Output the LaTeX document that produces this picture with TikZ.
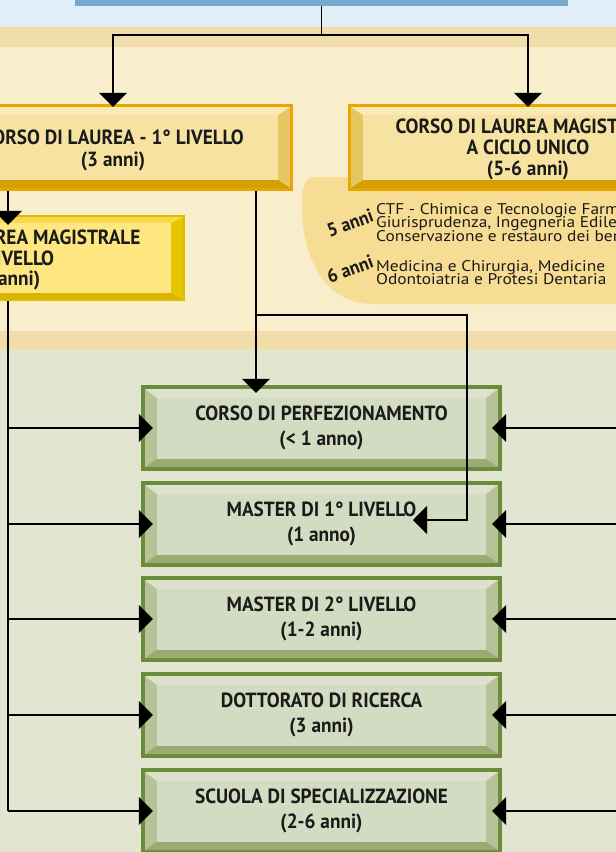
\documentclass[tikz,border=0pt]{standalone}
\usepackage{fontspec}
\setmainfont{PT Sans}
\newfontfamily\hfont[FakeStretch=0.94]{PT Sans}
\newfontfamily\sfont[FakeStretch=1.12]{PT Sans}
\usetikzlibrary{arrows.meta}

\definecolor{bgblue}{HTML}{E1EEF8}
\definecolor{bgtan}{HTML}{F1DDAA}
\definecolor{bgcream}{HTML}{F8EECC}
\definecolor{bggreen}{HTML}{E2E6D1}
\definecolor{oshape}{HTML}{F7DD93}
\definecolor{topblue}{HTML}{77A8CE}
\definecolor{txt}{HTML}{1A1A1A}
% orange box
\definecolor{obd}{HTML}{E8A700}
\definecolor{osd}{HTML}{E6C660}
\definecolor{otp}{HTML}{FAE9B5}
\definecolor{obt}{HTML}{D59F00}
\definecolor{ofc}{HTML}{F7E3A1}
% yellow box
\definecolor{ybd}{HTML}{E0BC00}
\definecolor{ysd}{HTML}{E6C600}
\definecolor{ytp}{HTML}{F6D94A}
\definecolor{ybt}{HTML}{D9B500}
\definecolor{yfc}{HTML}{FEE680}
% green box
\definecolor{gbd}{HTML}{6A8C3C}
\definecolor{gsd}{HTML}{B6C297}
\definecolor{gtp}{HTML}{DCE2CB}
\definecolor{gbt}{HTML}{9AAA72}
\definecolor{gfc}{HTML}{D3DBC2}

\def\bvT{4}\def\bvS{12}\def\bvU{9}\def\bvV{8}
% #1 name, #2 x1, #3 y1, #4 x2, #5 y2, #6 colour prefix, #7 text style, #8 text
\newcommand\bevbox[8]{%
  \fill[#6bd] (#2,#3) rectangle (#4,#5);
  \fill[#6sd] ({#2+\bvT},{#3+\bvT}) rectangle ({#4-\bvT},{#5-\bvT});
  \fill[#6tp] ({#2+\bvT},{#3+\bvT}) -- ({#4-\bvT},{#3+\bvT}) -- ({#4-\bvT-\bvS},{#3+\bvT+\bvU}) -- ({#2+\bvT+\bvS},{#3+\bvT+\bvU}) -- cycle;
  \fill[#6bt] ({#2+\bvT},{#5-\bvT}) -- ({#4-\bvT},{#5-\bvT}) -- ({#4-\bvT-\bvS},{#5-\bvT-\bvV}) -- ({#2+\bvT+\bvS},{#5-\bvT-\bvV}) -- cycle;
  \fill[#6fc] ({#2+\bvT+\bvS},{#3+\bvT+\bvU}) rectangle ({#4-\bvT-\bvS},{#5-\bvT-\bvV});
  \node[inner sep=0pt, minimum width={(#4-#2)*1pt}, minimum height={(#5-#3)*1pt}] (#1) at ({(#2+#4)/2},{(#3+#5)/2}) {};
  \node[#7] (#1text) at (#1.center) {#8};
}

\tikzset{
  conn/.style={line width=1.5pt, black},
  tip/.style={-{Triangle[width=28pt,length=14pt]}},
  gtext/.style={align=center, text=txt, inner sep=0pt, font=\hfont\bfseries\fontsize{20.5}{25}\selectfont},
  otext/.style={align=center, text=txt, inner sep=0pt, font=\hfont\bfseries\fontsize{20.5}{22}\selectfont},
  small/.style={anchor=base west, inner sep=0pt, text=txt, font=\sfont\fontsize{15.5}{15.5}\selectfont},
  years/.style={rotate=20, text=txt, inner sep=0pt, font=\hfont\bfseries\fontsize{19}{19}\selectfont},
}

\begin{document}
\begin{tikzpicture}[x=1pt,y=-1pt]
\useasboundingbox (0,0) rectangle (616,852);
\clip (0,0) rectangle (616,852);
% background bands
\fill[bgblue] (0,0) rectangle (616,27);
\fill[bgtan] (0,27) rectangle (616,47);
\fill[bgcream] (0,47) rectangle (616,331);
\fill[bgtan] (0,331) rectangle (616,350);
\fill[bggreen] (0,350) rectangle (616,852);

% top blue box
\fill[topblue] (75,-10) rectangle (568,6);
\node[inner sep=0pt, minimum width=493pt, minimum height=16pt] (top) at (321.5,-2) {};

% shape under the right box
\fill[oshape] (640,177) -- (312,177) .. controls (304,180) and (302,190) .. (302,205)
  .. controls (302,262) and (328,304) .. (372,304) -- (640,304) -- cycle;

% orange boxes
\def\bvT{3}\def\bvS{12}\def\bvU{8}\def\bvV{8}
\bevbox{lb}{-67}{104}{293}{191}{o}{otext,yshift=-3pt}{CORSO DI LAUREA - 1° LIVELLO\\(3 anni)}
\bevbox{rb}{348}{104}{708}{191}{o}{otext,yshift=-2pt,font=\hfont\bfseries\fontsize{20.5}{21}\selectfont}{CORSO DI LAUREA MAGISTRALE\\A CICLO UNICO\\(5-6 anni)}

% yellow box
\def\bvT{2}\def\bvS{12}\def\bvU{6}\def\bvV{6}
\bevbox{yb}{-169}{215}{185}{301}{y}{otext,yshift=-2pt,font=\hfont\bfseries\fontsize{20.5}{20.5}\selectfont}{CORSO DI LAUREA MAGISTRALE\\2° LIVELLO\\(2 anni)}

% texts of the right area
\node[years] (y5) at (350,223) {5 anni};
\node[years] (y6) at (350,269) {6 anni};
\node[small] (t1) at (376,214) {CTF - Chimica e Tecnologie Farmaceutiche};
\node[small] (t2) at (376,227.5) {Giurisprudenza, Ingegneria Edile};
\node[small] (t3) at (376,241) {Conservazione e restauro dei beni};
\node[small] (t4) at (376,271) {Medicina e Chirurgia, Medicine};
\node[small] (t5) at (376,284.5) {Odontoiatria e Protesi Dentaria};

% green boxes
\def\bvT{4}\def\bvS{12}\def\bvU{9}\def\bvV{8}
\bevbox{g1}{141}{385}{502}{471}{g}{gtext}{CORSO DI PERFEZIONAMENTO\\(< 1 anno)}
\bevbox{g2}{141}{481}{502}{567}{g}{gtext}{MASTER DI 1° LIVELLO\\(1 anno)}
\bevbox{g3}{141}{576}{502}{662}{g}{gtext}{MASTER DI 2° LIVELLO\\(1-2 anni)}
\bevbox{g4}{141}{672}{502}{758}{g}{gtext}{DOTTORATO DI RICERCA\\(3 anni)}
\bevbox{g5}{141}{768}{502}{854}{g}{gtext}{SCUOLA DI SPECIALIZZAZIONE\\(2-6 anni)}

% connectors
\coordinate (j1) at (321.5,35);
\draw[conn] (top.south) -- (j1);
\draw[conn,tip,shorten >=-3pt] (j1) -| (lb.north);
\draw[conn,tip,shorten >=-3pt] (j1) -| (rb.north);
\draw[conn,tip,shorten >=-10pt] (lb.south -| yb.north) -- (yb.north);

\coordinate (p1) at (256,315);
\coordinate (p2) at (467,315);
\coordinate (p3) at (467,520);
\coordinate (m1) at (413,520);
\draw[conn,tip,shorten >=-8pt] (lb.south -| p1) -- (p1 |- g1.north);
\draw[conn,tip] (p1) -- (p2) -- (p3) -- (m1);

\draw[conn] (yb.south) -- (yb.south |- g5.west);
\foreach \g in {g1,g2,g3,g4,g5}{
  \draw[conn,tip,shorten >=-12pt] (yb.south |- \g.west) -- (\g.west);
}
\coordinate (rbus) at (640,0);
\foreach \g in {g1,g2,g3,g4,g5}{
  \draw[conn,tip,shorten >=-10pt] (rbus |- \g.east) -- (\g.east);
}
\end{tikzpicture}
\end{document}
